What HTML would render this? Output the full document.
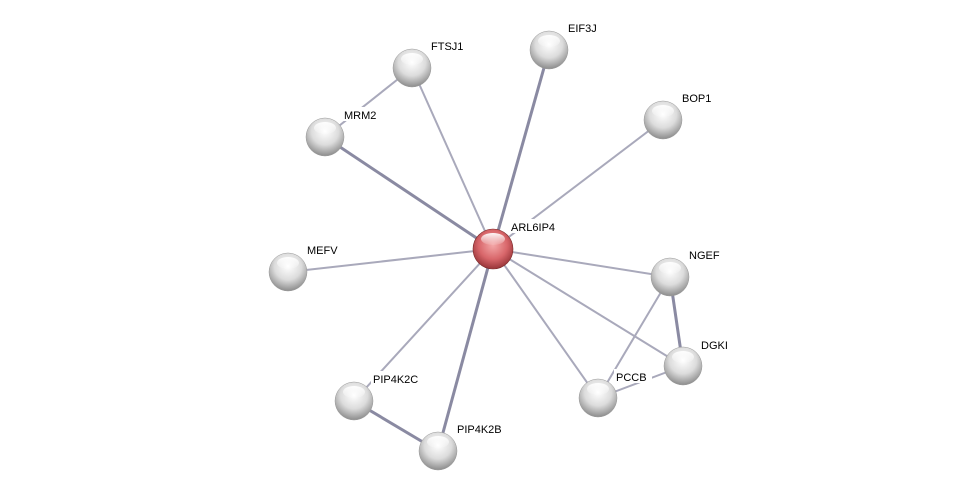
<!DOCTYPE html>
<html><head><meta charset="utf-8"><style>
html,body{margin:0;padding:0;background:#fff;width:975px;height:496px;overflow:hidden}
svg{display:block}
text{font-family:"Liberation Sans",Arial,sans-serif;font-size:11px;fill:#000}
</style></head><body>
<svg width="975" height="496" viewBox="0 0 975 496" xmlns="http://www.w3.org/2000/svg">
<defs>
<radialGradient id="g" cx="50%" cy="35%" r="65%">
<stop offset="0" stop-color="#ffffff"/><stop offset="0.55" stop-color="#dcdcdc"/><stop offset="1" stop-color="#8c8c8c"/>
</radialGradient>
<radialGradient id="r" cx="50%" cy="40%" r="65%">
<stop offset="0" stop-color="#f4a8a8"/><stop offset="0.55" stop-color="#d8666a"/><stop offset="1" stop-color="#8a2a2e"/>
</radialGradient>
<linearGradient id="hl" x1="0" y1="0" x2="0" y2="1">
<stop offset="0" stop-color="#fff" stop-opacity="0.95"/><stop offset="1" stop-color="#fff" stop-opacity="0.1"/>
</linearGradient>
</defs>
<g stroke="#a9a9bb" stroke-width="2" fill="none">
<line x1="493" y1="249" x2="412" y2="68"/>
<line x1="493" y1="249" x2="663" y2="120"/>
<line x1="493" y1="249" x2="288" y2="272"/>
<line x1="493" y1="249" x2="670" y2="277"/>
<line x1="493" y1="249" x2="683" y2="366"/>
<line x1="493" y1="249" x2="598" y2="398"/>
<line x1="493" y1="249" x2="354" y2="401"/>
<line x1="412" y1="68" x2="325" y2="137"/>
<line x1="670" y1="277" x2="598" y2="398"/>
<line x1="683" y1="366" x2="598" y2="398"/>
</g>
<g stroke="#8a8aa2" stroke-width="3" fill="none">
<line x1="493" y1="249" x2="549" y2="50"/>
<line x1="493" y1="249" x2="325" y2="137"/>
<line x1="493" y1="249" x2="438" y2="451"/>
<line x1="670" y1="277" x2="683" y2="366"/>
<line x1="354" y1="401" x2="438" y2="451"/>
</g>
<g id="nodes">
<g transform="translate(412,68)"><circle r="19" fill="url(#g)" stroke="#999" stroke-width="0.5"/><ellipse cy="-9" rx="11" ry="6" fill="url(#hl)"/></g>
<g transform="translate(549,50)"><circle r="19" fill="url(#g)" stroke="#999" stroke-width="0.5"/><ellipse cy="-9" rx="11" ry="6" fill="url(#hl)"/></g>
<g transform="translate(663,120)"><circle r="19" fill="url(#g)" stroke="#999" stroke-width="0.5"/><ellipse cy="-9" rx="11" ry="6" fill="url(#hl)"/></g>
<g transform="translate(325,137)"><circle r="19" fill="url(#g)" stroke="#999" stroke-width="0.5"/><ellipse cy="-9" rx="11" ry="6" fill="url(#hl)"/></g>
<g transform="translate(288,272)"><circle r="19" fill="url(#g)" stroke="#999" stroke-width="0.5"/><ellipse cy="-9" rx="11" ry="6" fill="url(#hl)"/></g>
<g transform="translate(670,277)"><circle r="19" fill="url(#g)" stroke="#999" stroke-width="0.5"/><ellipse cy="-9" rx="11" ry="6" fill="url(#hl)"/></g>
<g transform="translate(683,366)"><circle r="19" fill="url(#g)" stroke="#999" stroke-width="0.5"/><ellipse cy="-9" rx="11" ry="6" fill="url(#hl)"/></g>
<g transform="translate(598,398)"><circle r="19" fill="url(#g)" stroke="#999" stroke-width="0.5"/><ellipse cy="-9" rx="11" ry="6" fill="url(#hl)"/></g>
<g transform="translate(354,401)"><circle r="19" fill="url(#g)" stroke="#999" stroke-width="0.5"/><ellipse cy="-9" rx="11" ry="6" fill="url(#hl)"/></g>
<g transform="translate(438,451)"><circle r="19" fill="url(#g)" stroke="#999" stroke-width="0.5"/><ellipse cy="-9" rx="11" ry="6" fill="url(#hl)"/></g>
<g transform="translate(493,249)"><circle r="20" fill="url(#r)" stroke="#7a2a2a" stroke-width="0.6"/><ellipse cy="-10" rx="12" ry="6" fill="url(#hl)"/></g>
</g>
<g>
<rect x="429" y="38" width="40" height="14" fill="#fff"/><text x="431" y="50">FTSJ1</text>
<rect x="566" y="20" width="37" height="14" fill="#fff"/><text x="568" y="32">EIF3J</text>
<rect x="680" y="90" width="36" height="14" fill="#fff"/><text x="682" y="102">BOP1</text>
<rect x="342" y="107" width="40" height="14" fill="#fff"/><text x="344" y="119">MRM2</text>
<rect x="305" y="242" width="38" height="14" fill="#fff"/><text x="307" y="254">MEFV</text>
<rect x="509" y="219" width="54" height="14" fill="#fff"/><text x="511" y="231">ARL6IP4</text>
<rect x="687" y="247" width="38" height="14" fill="#fff"/><text x="689" y="259">NGEF</text>
<rect x="699" y="337" width="34" height="14" fill="#fff"/><text x="701" y="349">DGKI</text>
<rect x="614" y="369" width="38" height="14" fill="#fff"/><text x="616" y="381">PCCB</text>
<rect x="371" y="371" width="54" height="14" fill="#fff"/><text x="373" y="383">PIP4K2C</text>
<rect x="455" y="421" width="54" height="14" fill="#fff"/><text x="457" y="433">PIP4K2B</text>
</g>
</svg>
</body></html>
